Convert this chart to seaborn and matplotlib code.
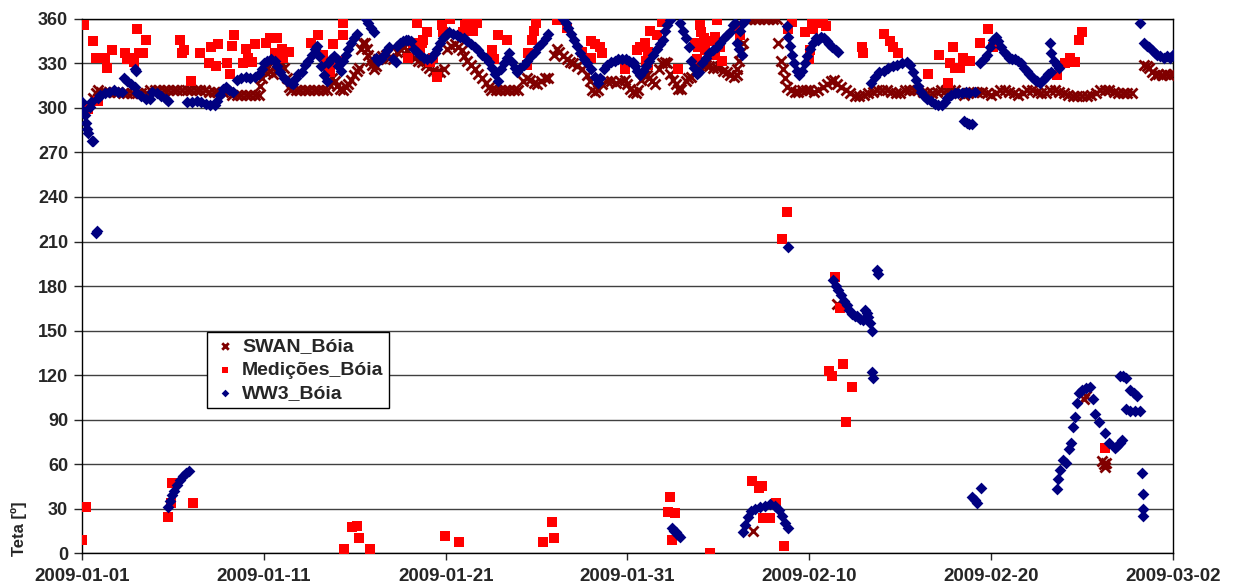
import matplotlib
matplotlib.use("Agg")
import matplotlib.pyplot as plt
import matplotlib.dates as mdates
import pandas as pd
import seaborn as sns

start = pd.Timestamp("2009-01-01")

# WW3 model at the buoy: days since 2009-01-01, direction (deg)
ww3_days = [0.0, 0.08, 0.15, 0.22, 0.28, 0.33, 0.45, 0.5, 0.55, 0.62, 0.75, 0.8, 0.9, 1.0, 1.25, 1.5, 1.75, 2.0, 2.2,
            2.3, 2.5, 2.7, 2.9, 2.92, 2.97, 3.0, 3.25, 3.5, 3.75, 3.85, 4.1, 4.35, 4.6, 4.75,
            4.73, 4.84, 4.95, 5.06, 5.23, 5.39, 5.56, 5.72, 5.89,
            5.8, 6.05, 6.3, 6.55, 6.8, 7.05, 7.3, 7.45, 7.6, 7.75, 7.9, 8.1, 8.3, 8.5, 8.75, 9.0, 9.25, 9.5, 9.75,
            9.9, 10.0, 10.2, 10.4, 10.6, 10.75, 10.9, 11.1, 11.3, 11.5, 11.6, 11.75, 11.9, 12.1, 12.25, 12.45,
            12.65, 12.8, 12.95, 13.05, 13.15, 13.3, 13.45, 13.55, 13.7, 13.85, 14.0, 14.1, 14.25, 14.35, 14.5,
            14.65, 14.8, 14.95, 15.1, 15.6, 15.75, 15.9, 16.05, 16.15, 16.3, 16.45, 16.6, 16.75, 16.9, 17.1,
            17.25, 17.35, 17.5, 17.65, 17.8, 17.95, 18.1, 18.25, 18.4, 18.6, 18.8, 19.0, 19.2, 19.4, 19.55,
            19.7, 19.85, 20.0, 20.2, 20.4, 20.6, 20.8, 21.0, 21.2, 21.4, 21.6, 21.8, 22.0, 22.2, 22.4, 22.55,
            22.7, 22.9, 23.05, 23.2, 23.35, 23.5, 23.65, 23.8, 23.95, 24.1, 24.3, 24.5, 24.7, 24.9, 25.1, 25.3,
            25.5, 25.65, 26.45, 26.6, 26.75, 26.9, 27.05, 27.2, 27.4, 27.6, 27.8, 28.0, 28.2, 28.4, 28.5, 28.7,
            28.9, 29.1, 29.3, 29.5, 29.7, 29.9, 30.1, 30.3, 30.4, 30.55, 30.7, 30.85, 31.0, 31.2, 31.4, 31.6,
            31.8, 31.95, 32.05, 32.2, 32.35,
            32.45, 32.55, 32.65, 32.78, 32.9,
            32.9, 33.05, 33.2, 33.4, 33.5, 33.65, 33.8, 33.95, 34.1, 34.3, 34.5, 34.7, 34.9, 35.1, 35.3, 35.5,
            35.65, 35.8, 35.9, 36.0, 36.15, 36.3, 36.2, 36.35, 36.45,
            36.36, 36.47, 36.63, 36.8, 37.02, 37.29, 37.57, 37.84, 38.12, 38.34, 38.5, 38.67, 38.83,
            38.75, 38.85, 38.83, 38.95, 39.05, 39.15, 39.3, 39.45, 39.6, 39.75, 39.9, 40.05, 40.2, 40.35, 40.5,
            40.65, 40.8, 40.95, 41.1, 41.25, 41.45, 41.6,
            41.3, 41.45, 41.6, 41.75, 41.9, 42.05, 42.2, 42.35, 42.5, 42.65, 42.8, 42.95, 43.05, 43.15, 43.25,
            43.35, 43.45, 43.45, 43.5, 43.7, 43.78,
            43.4, 43.6, 43.85, 44.1, 44.35, 44.6, 44.85, 45.1, 45.35, 45.55, 45.7, 45.85, 46.0, 46.15, 46.3,
            46.5, 46.7, 46.9, 47.1, 47.3, 47.45, 47.6, 47.8, 48.0, 48.2, 48.4, 48.6, 48.8, 49.1,
            48.5, 48.65, 48.8, 48.95,
            48.95, 49.1, 49.25, 49.45,
            49.4, 49.6, 49.8, 49.95, 50.1, 50.25, 50.4, 50.55, 50.7, 50.85, 51.0, 51.15, 51.3, 51.5, 51.65,
            51.8, 51.95, 52.1, 52.25, 52.4, 52.55, 52.7, 52.85, 53.0, 53.15, 53.3, 53.25, 53.3, 53.45, 53.6, 53.75,
            53.6, 53.7, 53.8, 53.96, 54.13, 54.3, 54.4, 54.5, 54.6, 54.7, 54.85, 55.0, 55.2, 55.45, 55.6, 55.7,
            55.95, 56.25, 56.5, 56.8, 56.95, 57.1, 57.2,
            57.1, 57.25, 57.4, 57.65, 57.85, 58.05, 57.4, 57.65, 57.9, 58.2, 58.3, 58.33, 58.36, 58.38,
            58.2, 58.4, 58.55, 58.7, 58.85, 59.0, 59.15, 59.3, 59.5, 59.7, 59.85, 60.0, 60.1]
ww3_teta = [304, 298, 295, 290, 286, 283, 301, 304, 278, 278, 216, 217, 307, 309, 310, 311, 312, 311, 311,
            320, 318, 316, 314, 326, 325, 310, 308, 306, 306, 311, 310, 308, 306, 305,
            31, 35, 39, 42, 46, 49, 52, 54, 55,
            304, 304, 305, 304, 303, 302, 302, 305, 309, 313, 314, 312, 311, 319, 320, 321, 320, 321, 323,
            326, 330, 332, 333, 332, 328, 324, 320, 318, 317, 316, 320, 323, 324, 329, 332,
            336, 340, 342, 335, 328, 322, 318, 330, 333, 335, 333, 328, 325, 332, 336,
            340, 344, 347, 350, 360, 357, 354, 351, 334, 332, 333, 336, 339, 341, 333,
            331, 342, 344, 345, 346, 346, 345, 340, 338, 336, 334, 333, 334, 337, 340,
            344, 347, 349, 351, 350, 349, 348, 347, 345, 343, 341, 339, 336, 334, 331, 327,
            323, 318, 326, 330, 334, 337, 331, 327, 324, 327, 329, 332, 335, 338, 341, 344,
            347, 350, 360, 357, 354, 350, 346, 342, 337, 333, 330, 326, 321, 317, 320, 326,
            329, 331, 332, 333, 333, 333, 332, 331, 328, 325, 322, 325, 328, 332, 336, 340,
            343, 346, 352, 356, 359,
            17, 15, 14, 12, 11,
            357, 352, 347, 341, 332, 327, 323, 324, 330, 334, 337, 339, 341, 344, 347, 349,
            351, 356, 357, 344, 340, 336, 352, 357, 359,
            14, 19, 24, 28, 30, 31, 32, 33, 32, 29, 25, 20, 17,
            355, 348, 206, 342, 336, 330, 325, 322, 325, 330, 335, 340, 344, 347, 346,
            348, 347, 345, 343, 341, 339, 338,
            184, 180, 177, 174, 170, 167, 164, 161, 160, 160, 158, 157, 164, 162, 159,
            155, 150, 122, 118, 191, 188,
            317, 321, 324, 325, 327, 328, 329, 330, 331, 329, 324, 319, 315, 311, 308,
            306, 305, 303, 302, 302, 304, 307, 309, 310, 310, 310, 311, 310, 311,
            291, 290, 289, 289,
            38, 36, 34, 44,
            330, 333, 336, 341, 346, 348, 345, 341, 338, 336, 334, 333, 333, 332, 330,
            327, 325, 323, 321, 319, 318, 317, 319, 321, 323, 324, 344, 337, 332, 329, 327,
            43, 50, 56, 63, 61, 70, 74, 85, 92, 101, 108, 110, 111, 112, 104, 94,
            88, 81, 74, 71, 72, 74, 76,
            119, 119, 118, 110, 108, 106, 97, 96, 96, 96, 54, 40, 30, 25,
            357, 344, 342, 341, 339, 337, 336, 335, 334, 335, 334, 336, 337]

# SWAN model at the buoy
swan_days = [0.6, 0.75, 0.9, 1.05, 1.25, 1.5, 1.75, 2.0, 2.25, 2.5, 2.75, 3.0, 3.25, 3.5, 3.75, 4.0, 4.25, 4.5,
             4.75, 5.0, 5.25, 5.5, 5.75, 6.0, 6.25, 6.5, 6.75, 7.0, 7.25, 7.5, 7.75, 8.0, 8.25, 8.5, 8.75, 9.0,
             9.25, 9.5, 9.75, 9.8, 9.9, 10.05, 10.2, 10.35, 10.5, 10.65, 10.8, 10.95, 11.1, 11.25, 11.4, 11.5,
             11.75, 12.0, 12.25, 12.5, 12.75, 13.0, 13.25, 13.5, 13.6, 13.75, 13.9, 14.05, 14.2, 14.35, 14.5,
             14.65, 14.8, 14.95, 15.1, 15.25, 15.35, 15.45, 15.55, 15.65, 15.75, 15.85, 15.95, 16.05, 16.15,
             16.3, 16.5, 16.7, 16.9, 17.1, 17.3, 17.5, 17.7, 17.9, 18.1, 18.3, 18.5, 18.7, 18.9, 19.1, 19.3,
             19.5, 19.7, 19.9, 20.1, 20.3, 20.5, 20.7, 20.9, 21.0, 21.2, 21.4, 21.6, 21.8, 22.0, 22.2, 22.4,
             22.5, 22.75, 23.0, 23.25, 23.5, 23.75, 24.0, 24.25, 24.45, 24.65, 24.85, 25.05, 25.25, 25.45, 25.65,
             25.95, 26.1, 26.25, 26.45, 26.65, 26.85, 27.0, 27.25, 27.5, 27.75, 27.95, 28.05, 28.2, 28.4, 28.6,
             28.85, 29.1, 29.35, 29.6, 29.85, 30.0, 30.15, 30.3, 30.45, 30.6, 30.75, 30.9, 31.05, 31.2, 31.35,
             31.5, 31.75, 31.9, 32.05, 32.2, 32.35, 32.5, 32.65, 32.8, 32.95, 33.2, 33.35, 33.5, 33.7, 33.9,
             34.1, 34.3, 34.5, 34.7, 34.9, 35.1, 35.25, 35.45, 35.65, 35.85, 36.0, 36.05, 36.15, 36.25, 36.35,
             36.5, 36.75, 37.0, 37.25, 37.5, 37.75, 38.0, 38.25, 38.3, 38.45, 38.55, 38.65, 38.8, 39.0, 39.2,
             39.4, 39.6, 39.8, 40.0, 40.25, 40.5, 40.75, 41.0, 41.2, 41.35, 41.5, 41.75, 42.0, 42.25, 42.5,
             42.75, 43.0, 43.25, 43.5, 43.75, 44.0, 44.25, 44.5, 44.75, 45.0, 45.25, 45.5, 45.75, 46.0, 46.25,
             46.5, 46.75, 47.0, 47.25, 47.5, 47.75, 48.0, 48.25, 48.5, 48.75, 49.0, 49.25, 49.5, 49.75, 50.0,
             50.25, 50.5, 50.75, 51.0, 51.25, 51.5, 51.75, 52.0, 52.25, 52.5, 52.75, 53.0, 53.25, 53.5, 53.75,
             54.0, 54.25, 54.5, 54.75, 55.0, 55.25, 55.5, 55.75, 56.0, 56.25, 56.5, 56.75, 57.0, 57.25, 57.5,
             57.75, 58.4, 58.55, 58.7, 58.85, 59.0, 59.2, 59.4, 59.6, 59.8, 60.0,
             36.9, 41.5, 55.1, 55.2, 56.1, 56.2, 56.25, 56.3]
swan_teta = [307, 310, 312, 311, 311, 311, 311, 311, 310, 310, 310, 310, 310, 310, 312, 312, 312, 312,
             312, 312, 312, 312, 312, 312, 312, 312, 312, 311, 311, 311, 311, 311, 309, 309, 309, 309,
             309, 309, 309, 315, 320, 325, 327, 325, 323, 324, 328, 331, 327, 320, 314, 312,
             312, 312, 312, 312, 312, 312, 312, 312, 316, 320, 318, 315, 313, 312, 314,
             316, 319, 322, 325, 327, 340, 344, 344, 340, 336, 332, 329, 326, 328,
             333, 335, 336, 334, 333, 338, 340, 341, 339, 336, 334, 332, 331, 329, 327, 325,
             324, 324, 326, 340, 342, 343, 341, 339, 335, 332, 329, 326, 323, 320, 317, 314,
             312, 312, 312, 312, 312, 312, 312, 318, 320, 319, 317, 316, 318, 320, 320,
             336, 340, 338, 335, 333, 331, 330, 328, 326, 322, 318, 312, 311, 312, 316,
             318, 318, 317, 318, 319, 316, 313, 311, 310, 312, 319, 322, 322, 320, 318,
             316, 326, 330, 331, 330, 323, 319, 316, 313, 313, 318, 320, 321, 325, 328,
             329, 329, 328, 327, 327, 328, 325, 324, 322, 321, 322, 326, 332, 338, 344,
             360, 360, 360, 360, 360, 360, 360, 360, 344, 332, 326, 320, 314, 312, 311,
             311, 312, 312, 312, 311, 312, 314, 316, 318, 319, 316, 314, 312, 310, 308,
             308, 309, 310, 311, 312, 312, 312, 311, 310, 310, 312, 312, 312, 312, 311,
             310, 310, 311, 312, 312, 312, 312, 310, 309, 310, 311, 311, 311, 310, 309,
             310, 312, 312, 311, 310, 309, 310, 312, 312, 311, 310, 310, 312, 312, 311,
             310, 309, 308, 308, 308, 308, 309, 310, 312, 312, 312, 311, 310, 310, 310,
             310, 329, 328, 327, 324, 322, 323, 322, 323, 322, 323,
             15, 168, 104, 106, 62, 60, 58, 61]

# buoy measurements
med_days = [0.0, 0.11, 0.22, 0.33, 0.6, 0.77, 0.88, 1.27, 1.38, 1.65, 2.37, 2.48, 2.75, 2.86, 3.03, 3.14, 3.36,
            3.52, 4.73, 4.9, 4.95, 5.39, 5.5, 5.61, 6.0, 6.11, 6.49, 6.99, 7.1, 7.37, 7.48, 7.98, 8.14, 8.25,
            8.36, 8.86, 9.02, 9.13, 9.35, 9.52, 10.12, 10.34, 10.62, 10.73, 11.0, 11.06, 11.39, 12.6, 12.98,
            13.26, 13.37, 13.53, 13.64, 13.81, 14.03, 14.19, 14.36, 14.38, 14.41, 14.85, 15.13, 15.24, 15.84,
            17.93, 18.21, 18.43, 18.59, 18.7, 18.76, 18.98, 19.14, 19.31, 19.53, 19.8, 19.86, 19.97, 20.24,
            20.74, 20.96, 21.07, 21.18, 21.51, 21.73, 22.55, 22.66, 22.88, 23.38, 24.48, 24.53, 24.75, 24.86,
            24.97, 25.36, 25.85, 25.96, 26.13, 26.68, 27.5, 28.0, 28.02, 28.22, 28.49, 28.6, 29.87, 30.5,
            30.69, 30.97, 31.0, 31.13, 31.15, 31.24, 31.63, 31.9, 32.23, 32.34, 32.45, 32.62, 32.78, 33.72,
            33.8, 33.88, 33.99, 34.05, 34.16, 34.2, 34.27, 34.54, 34.54, 34.6, 34.82, 34.84, 34.93, 35.09,
            35.2, 36.08, 36.2, 36.85, 37.24, 37.4, 37.46, 37.84, 38.17, 38.5, 38.61, 38.78, 38.83, 39.05,
            39.77, 39.99, 40.04, 40.15, 40.21, 40.48, 40.76, 40.92, 41.09, 41.25, 41.42, 41.69, 41.86, 42.02,
            42.35, 42.9, 42.96, 44.11, 44.44, 44.61, 44.88, 46.53, 47.14, 47.63, 47.74, 47.91, 48.02, 48.29,
            48.46, 48.84, 49.4, 49.83, 50.11, 53.63, 54.07, 54.35, 54.62, 54.84, 55.0, 56.27]
med_teta = [9, 356, 31, 299, 345, 334, 305, 334, 327, 339, 337, 333, 334, 331, 353, 337, 337,
            346, 24, 34, 47, 346, 337, 339, 318, 34, 337, 330, 341, 328, 343, 330, 323, 342,
            349, 330, 340, 334, 331, 343, 344, 347, 337, 347, 340, 334, 338, 344, 349,
            336, 329, 326, 324, 343, 330, 332, 357, 349, 3, 17.5, 18.5, 10, 3,
            334, 344, 357, 339, 344, 346, 351, 331, 334, 321, 356, 351, 11.5, 360,
            7.6, 351, 356, 358, 352, 357, 339, 333, 349, 346, 329, 337, 346, 352,
            357, 7.3, 21, 10.3, 359, 354, 338, 345, 334, 343, 341, 337, 326, 339,
            341, 344, 332, 338, 329, 352, 349, 358, 27.6, 37.7, 8.8, 27, 326, 344,
            333, 341, 356, 351, 344, 347, 339, 336, 0.3, 345, 348, 336, 359, 341,
            332, 355, 349, 48.5, 43.8, 45, 23.6, 23.6, 34, 212, 4.7, 230, 353, 358,
            351, 333, 339, 357, 353, 359, 357, 355, 123, 119, 186, 165, 127.5, 88,
            112, 341, 337, 350, 345, 341, 337, 323, 336, 317, 330, 341, 327, 327,
            334, 332, 344, 353, 341, 322, 330, 334, 331, 346, 351, 71]

y_ticks = list(range(0, 361, 30))
x_tick_days = [0, 10, 20, 30, 40, 50, 60]


def to_frame(days, teta):
    return pd.DataFrame({"data": start + pd.to_timedelta(days, unit="D"), "teta": teta})


swan = to_frame(swan_days, swan_teta)
med = to_frame(med_days, med_teta)
ww3 = to_frame(ww3_days, ww3_teta)

sns.set_style("white")
plt.rcParams["font.family"] = ["Liberation Sans", "DejaVu Sans"]
plt.rcParams["font.weight"] = "bold"

fig = plt.figure(figsize=(12.33, 5.88), dpi=100)
ax = fig.add_axes([0.0665, 0.0595, 0.8848, 0.9082])

sns.scatterplot(data=swan, x="data", y="teta", marker="x", color="#800000", s=52,
                linewidth=2.0, ax=ax, label="SWAN_Bóia", zorder=3)
sns.scatterplot(data=med, x="data", y="teta", marker="s", color="#FF0000", s=42,
                linewidth=0, ax=ax, label="Medições_Bóia", zorder=4)
sns.scatterplot(data=ww3, x="data", y="teta", marker="D", color="#000080", s=36,
                linewidth=0, ax=ax, label="WW3_Bóia", zorder=5)

ax.set_ylim(0, 360)
ax.set_yticks(y_ticks)
ax.set_xlim(start, start + pd.Timedelta(days=60))
ax.set_xticks([start + pd.Timedelta(days=d) for d in x_tick_days])
ax.xaxis.set_major_formatter(mdates.DateFormatter("%Y-%m-%d"))

ax.yaxis.grid(True, color="#404040", linewidth=1.0)
ax.set_axisbelow(True)
for side in ["left", "bottom", "right", "top"]:
    ax.spines[side].set_visible(True)
    ax.spines[side].set_color("black")
    ax.spines[side].set_linewidth(1.0)

ax.tick_params(axis="y", length=6, width=1, direction="out", labelsize=13, pad=4, left=True)
ax.tick_params(axis="x", length=5, width=1, direction="out", labelsize=13.5, pad=6, bottom=True)
for lab in ax.get_xticklabels() + ax.get_yticklabels():
    lab.set_fontweight("bold")

ax.set_xlabel("")
ax.set_ylabel("Teta [º]", loc="bottom", fontsize=12, fontweight="bold")
ax.yaxis.set_label_coords(-0.05, -0.005)

leg = ax.legend(loc="lower left", bbox_to_anchor=(0.1146, 0.2715), frameon=True, fancybox=False,
                edgecolor="black", framealpha=1, fontsize=14, borderpad=0.3, labelspacing=0.3,
                handletextpad=0.3, handlelength=1.2, borderaxespad=0, markerscale=0.65)
leg.get_frame().set_linewidth(1.0)
for t in leg.get_texts():
    t.set_fontweight("bold")

fig.savefig("out.png", dpi=100)
